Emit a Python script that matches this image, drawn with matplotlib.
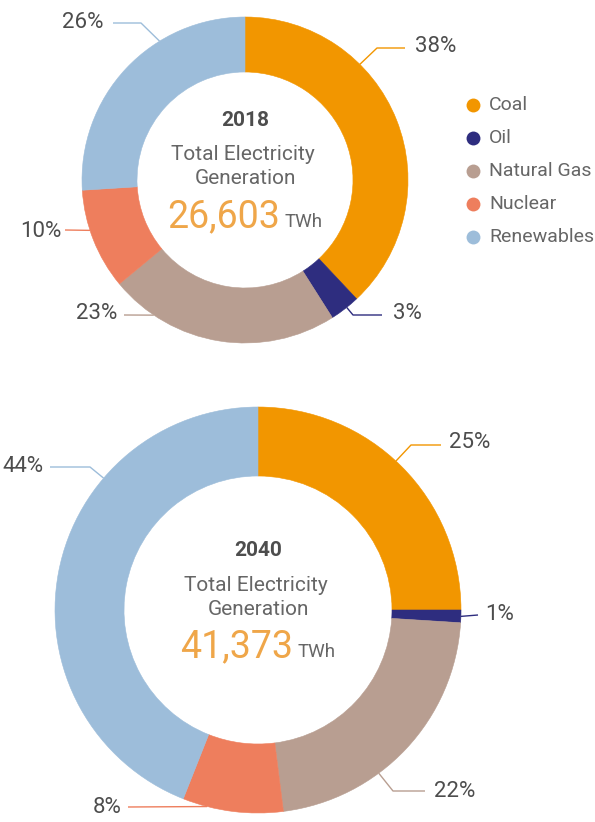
import numpy as np
import matplotlib.pyplot as plt

plt.rcParams['font.family'] = ['Roboto', 'DejaVu Sans']

# data
sources = ['Coal', 'Oil', 'Natural Gas', 'Nuclear', 'Renewables']
colors = ['#F29600', '#2E2D7F', '#B89E91', '#EE7E5D', '#9DBDDA']
share_2018 = [38, 3, 23, 10, 26]
share_2040 = [25, 1, 22, 8, 44]
total_2018 = '26,603'
total_2040 = '41,373'

TXT = '#4D4D4D'
GREY = '#666666'
NUM = '#EFA649'

fig = plt.figure(figsize=(5.95, 8.22), dpi=100)
ax = fig.add_axes([0, 0, 1, 1])


def donut(vals, cx, cy, R, w, year, total, leaders):
    # y axis is flipped, so start at -90 and go "counterclock" = clockwise on screen
    wedges, _ = ax.pie(vals, colors=colors, startangle=-90, counterclock=True,
                       radius=R, center=(cx, cy), frame=True,
                       wedgeprops=dict(width=w, linewidth=0.4))
    for wd in wedges:
        wd.set_edgecolor(wd.get_facecolor())
    ax.text(cx, cy - 60, year, ha='center', va='center', fontsize=15,
            fontweight='bold', color=TXT)
    ax.text(cx - 2, cy - 25, 'Total Electricity', ha='center', va='center',
            fontsize=15, color=GREY)
    ax.text(cx, cy - 1, 'Generation', ha='center', va='center',
            fontsize=15, color=GREY)
    ax.text(cx + 35, cy + 47, total, ha='right', va='baseline', fontsize=27,
            color=NUM)
    ax.text(cx + 40, cy + 47, 'TWh', ha='left', va='baseline', fontsize=13.5,
            color=GREY)
    # leader lines: angle on ring, elbow, end, text pos
    for i, (ang, pts, tx, ty) in enumerate(leaders):
        a = np.deg2rad(ang)
        x0 = cx + R * np.cos(a)
        y0 = cy - R * np.sin(a)
        xs = [x0] + [p[0] for p in pts]
        ys = [y0] + [p[1] for p in pts]
        ax.plot(xs, ys, color=colors[i], lw=1.0, solid_capstyle='butt')
        ax.text(tx, ty, f'{vals[i]}%', ha='center', va='center',
                fontsize=16, color=TXT)


lead_2018 = [
    (45.2, [(377, 48), (405, 48)], 436, 46),
    (-51.4, [(353, 315), (382, 315)], 407, 313),
    (-124, [(124, 315)], 97, 313),
    (-162, [(65, 230)], 41, 231),
    (121.6, [(141, 23), (113, 23)], 83, 22),
]
lead_2040 = [
    (47.2, [(411, 445), (441, 445)], 470, 442),
    (-1.8, [(478, 615)], 500, 614),
    (-53.5, [(393, 791), (425, 791)], 455, 791),
    (-104.5, [(128, 807)], 107, 807),
    (139.5, [(90, 467), (50, 467)], 23, 466),
]

donut(share_2018, 245, 180, 163, 55, '2018', total_2018, lead_2018)
donut(share_2040, 258, 610, 203, 69, '2040', total_2040, lead_2040)

# legend
for i, name in enumerate(sources):
    ax.plot(473, 105 + 33 * i, 'o', ms=10, color=colors[i], mec='none')
    ax.text(489, 105 + 33 * i, name, ha='left', va='center', fontsize=14,
            color=GREY)

ax.set_xlim(0, 595)
ax.set_ylim(822, 0)
ax.set_aspect('auto')
ax.axis('off')

plt.savefig('out.png', dpi=100, facecolor='white')
